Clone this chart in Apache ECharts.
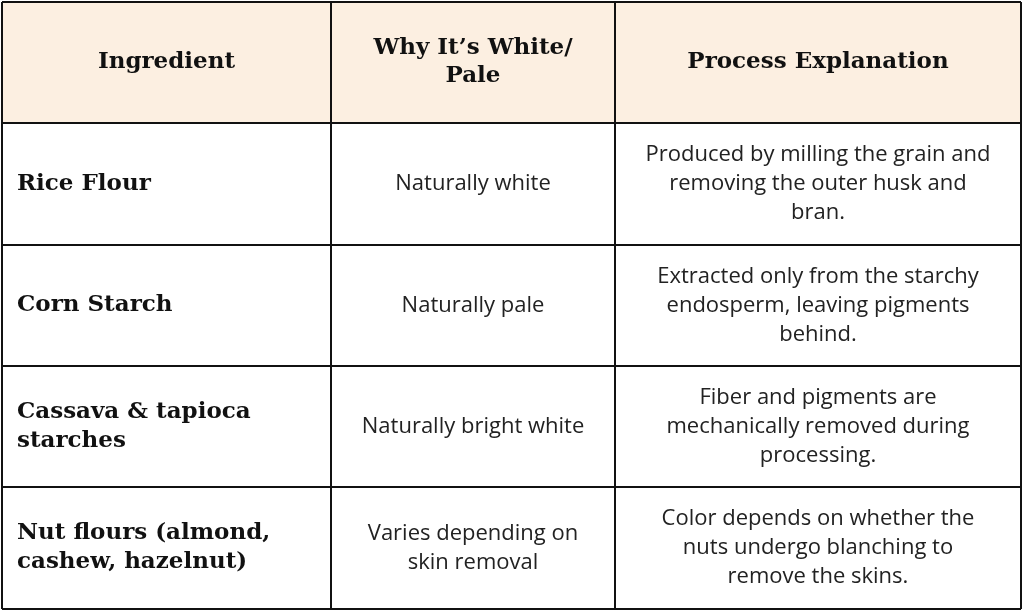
<!DOCTYPE html>
<html>
<head>
<meta charset="utf-8">
<script src="https://cdn.jsdelivr.net/npm/echarts@6/dist/echarts.min.js"></script>
<style>html,body{margin:0;padding:0;background:#fff}#main{width:1024px;height:614px}</style>
</head>
<body>
<div id="main"></div>
<script>
const headers = ['Ingredient', 'Why It\u2019s White/\nPale', 'Process Explanation']
const ingredients = ['Rice Flour', 'Corn Starch', 'Cassava & tapioca\nstarches', 'Nut flours (almond,\ncashew, hazelnut)']
const whyWhite = ['Naturally white', 'Naturally pale', 'Naturally bright white', 'Varies depending on\nskin removal']
const processText = [
  'Produced by milling the grain and\nremoving the outer husk and\nbran.',
  'Extracted only from the starchy\nendosperm, leaving pigments\nbehind.',
  'Fiber and pigments are\nmechanically removed during\nprocessing.',
  'Color depends on whether the\nnuts undergo blanching to\nremove the skins.'
]

const colX = [2, 331, 615, 1021]
const rowY = [2, 123, 245, 366, 487, 609]
const serif = '"DejaVu Serif", serif'
const sans = '"Open Sans", sans-serif'

const elements = []
elements.push({ type: 'rect', shape: { x: colX[0], y: rowY[0], width: colX[3] - colX[0], height: rowY[1] - rowY[0] }, style: { fill: '#fcefe1' } })

// header text
headers.forEach((h, i) => {
  elements.push({
    type: 'text', x: (colX[i] + colX[i + 1]) / 2, y: (rowY[0] + rowY[1]) / 2,
    style: { text: h, font: 'bold 23px ' + serif, fill: '#111', align: 'center', verticalAlign: 'middle', lineHeight: 28 }
  })
})

const rows = ingredients.map((ing, r) => [ing, whyWhite[r], processText[r]])
rows.forEach((row, r) => {
  const cy = (rowY[r + 1] + rowY[r + 2]) / 2
  elements.push({
    type: 'text', x: colX[0] + 15, y: cy,
    style: { text: row[0], font: 'bold 23px ' + serif, fill: '#111', align: 'left', verticalAlign: 'middle', lineHeight: 29 }
  })
  for (let c = 1; c < 3; c++) {
    elements.push({
      type: 'text', x: (colX[c] + colX[c + 1]) / 2, y: cy,
      style: { text: row[c], font: '22px ' + sans, fill: '#222', align: 'center', verticalAlign: 'middle', lineHeight: 29 }
    })
  }
})

// grid lines
rowY.forEach(y => {
  elements.push({ type: 'line', shape: { x1: colX[0], y1: y, x2: colX[3], y2: y }, style: { stroke: '#111', lineWidth: 2 } })
})
colX.forEach(x => {
  elements.push({ type: 'line', shape: { x1: x, y1: rowY[0], x2: x, y2: rowY[rowY.length - 1] }, style: { stroke: '#111', lineWidth: 2 } })
})

const chart = echarts.init(document.getElementById('main'))
chart.setOption({ animation: false, graphic: { elements } })
</script>
</body>
</html>
